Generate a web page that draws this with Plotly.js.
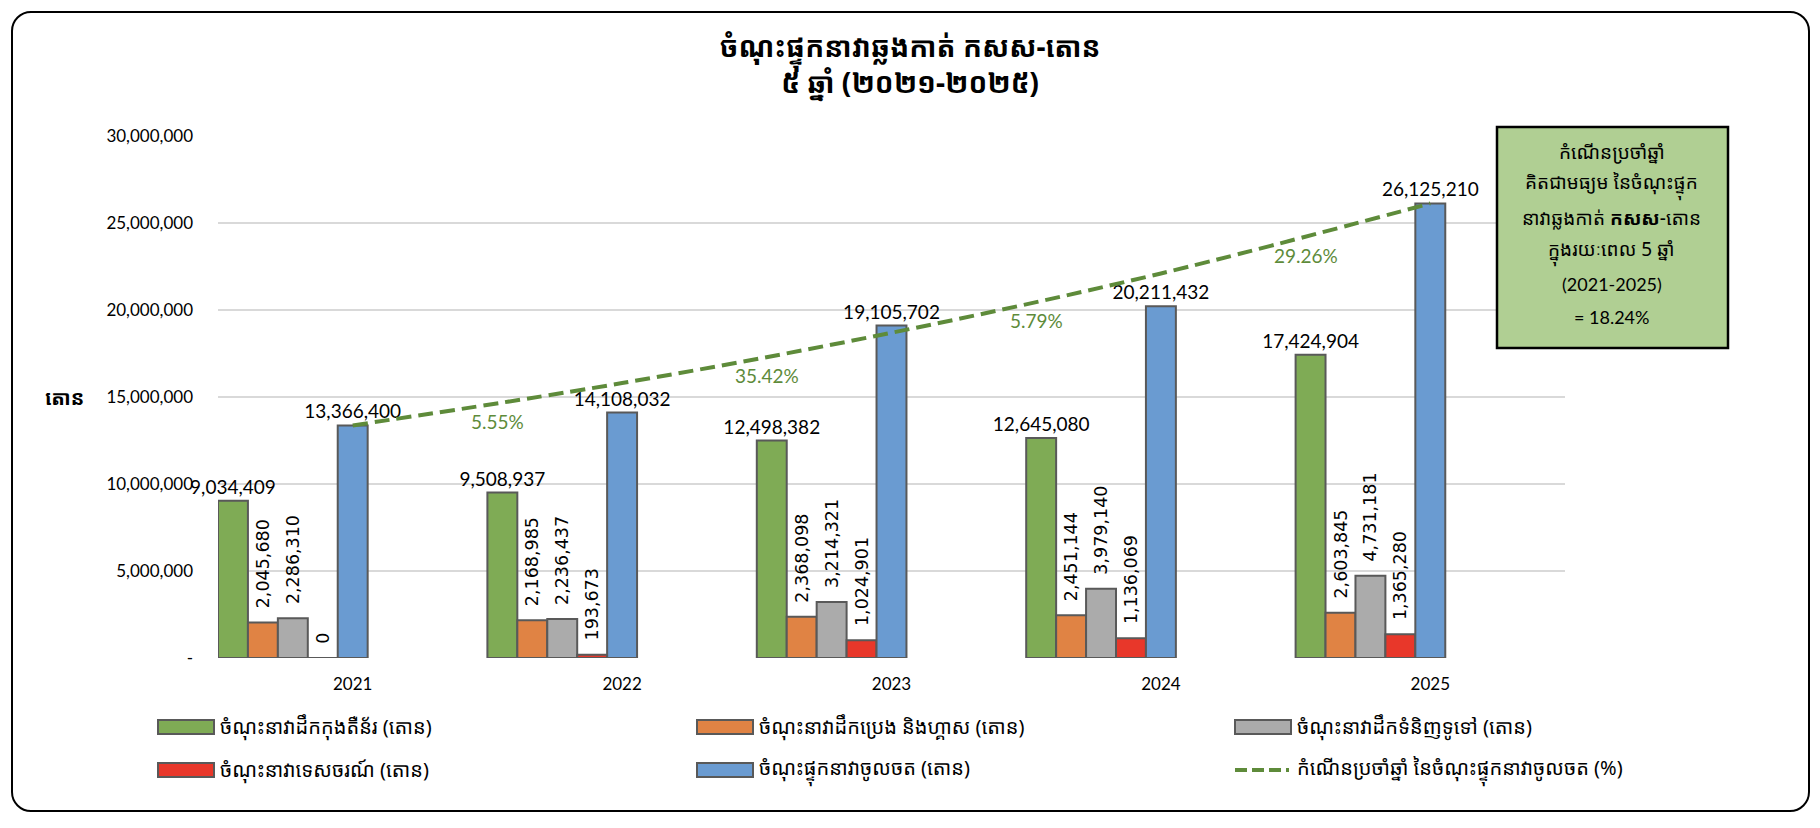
<!DOCTYPE html>
<html>
<head>
<meta charset="utf-8">
<script src="https://cdn.plot.ly/plotly-3.0.1.min.js"></script>
<style>
  body { margin: 0; background: #fff; }
  #chart { position: absolute; left: 0; top: 0; width: 1820px; height: 828px; }
  #frame { position: absolute; left: 11px; top: 11px; width: 1795px; height: 797px;
           border: 2px solid #000; border-radius: 20px; pointer-events: none; }
</style>
</head>
<body>
<div id="chart"></div>
<div id="frame"></div>
<script>
var khmer = "'Khmer OS Siemreap', 'Khmer OS', 'Noto Sans Khmer', 'Noto Serif Khmer', Hanuman, Battambang, sans-serif";
var latin = "Lato, 'Open Sans', sans-serif";

var years = ['2021', '2022', '2023', '2024', '2025'];
var container = [9034409, 9508937, 12498382, 12645080, 17424904];
var oilGas = [2045680, 2168985, 2368098, 2451144, 2603845];
var generalCargo = [2286310, 2236437, 3214321, 3979140, 4731181];
var cruise = [0, 193673, 1024901, 1136069, 1365280];
var totalCapacity = [13366400, 14108032, 19105702, 20211432, 26125210];
// dashed curve (average growth 18.24% per year)
var trendLine = [13366400, 15800000, 18690000, 22100000, 26125210];
var growthText = ['5.55%', '35.42%', '5.79%', '29.26%'];

var seriesNames = [
  'ចំណុះនាវាដឹកកុងតឺន័រ (តោន)',
  'ចំណុះនាវាដឹកប្រេង និងហ្គាស (តោន)',
  'ចំណុះនាវាដឹកទំនិញទូទៅ (តោន)',
  'ចំណុះនាវាទេសចរណ៍ (តោន)',
  'ចំណុះផ្ទុកនាវាចូលចត (តោន)',
  'កំណើនប្រចាំឆ្នាំ នៃចំណុះផ្ទុកនាវាចូលចត (%)'
];
var yTickVals = [0, 5000000, 10000000, 15000000, 20000000, 25000000, 30000000];
var yTickText = ['-', '5,000,000', '10,000,000', '15,000,000', '20,000,000', '25,000,000', '30,000,000'];
var boxLines = [
  'កំណើនប្រចាំឆ្នាំ',
  'គិតជាមធ្យម នៃចំណុះផ្ទុក',
  'នាវាឆ្លងកាត់ <b>កសស</b>-តោន',
  'ក្នុងរយៈពេល 5 ឆ្នាំ',
  '(2021-2025)',
  '= 18.24%'
];

var colors = ['#7FAB55', '#E08344', '#ABABAB', '#E8372A', '#6A9BD1'];
var lineColor = '#5E8B3A';

// plot area in pixels
var L = 218, R = 1565, T = 136, B = 658;
function px(x) { return (x - L) / (R - L); }
function py(y) { return (B - y) / (B - T); }

var slot = 1 / 9;
function fmt(v) { return v.toLocaleString('en-US'); }

function barTrace(vals, i, rotated) {
  return {
    type: 'bar',
    x: years,
    y: vals,
    name: seriesNames[i],
    offset: -0.5 + i * slot,
    width: slot,
    marker: { color: colors[i], line: { color: '#595959', width: 2 } },
    // rotated labels sit a little above their bars, as in the original
    text: vals.map(function (v) { return rotated ? '\u00A0\u00A0' + fmt(v) : fmt(v); }),
    textposition: 'outside',
    textangle: rotated ? -90 : 0,
    constraintext: 'none',
    cliponaxis: false,
    textfont: rotated ? { family: "'DejaVu Sans', sans-serif", size: 17.5, color: '#000' }
                      : { family: latin, size: 19, color: '#000' },
    showlegend: false,
    hoverinfo: 'y'
  };
}

var data = [
  barTrace(container, 0, false),
  barTrace(oilGas, 1, true),
  barTrace(generalCargo, 2, true),
  barTrace(cruise, 3, true),
  barTrace(totalCapacity, 4, false),
  {
    type: 'scatter',
    mode: 'lines',
    x: years,
    y: trendLine,
    name: seriesNames[5],
    line: { color: lineColor, width: 4, dash: '15px,7px', shape: 'spline' },
    showlegend: false,
    hoverinfo: 'y'
  }
];

var annotations = [];
var shapes = [];

// growth labels between years, under the dashed curve
growthText.forEach(function (t, i) {
  annotations.push({
    x: i + 0.5, y: (trendLine[i] + trendLine[i + 1]) / 2,
    xref: 'x', yref: 'y', xanchor: 'center', yanchor: 'top', xshift: 10, yshift: -4,
    text: t, showarrow: false,
    font: { family: latin, size: 19, color: lineColor }
  });
});

// y unit label
annotations.push({
  x: px(64), y: py(397), xref: 'paper', yref: 'paper',
  xanchor: 'center', yanchor: 'middle',
  text: '<b>តោន</b>', showarrow: false,
  font: { family: khmer, size: 20, color: '#000' }
});

// average growth box
shapes.push({
  type: 'rect', xref: 'paper', yref: 'paper',
  x0: px(1497), x1: px(1728), y0: py(348), y1: py(127),
  fillcolor: '#B0CF93', line: { color: '#000', width: 2.5 }, layer: 'above'
});
boxLines.forEach(function (t, i) {
  annotations.push({
    x: px(1612), y: py(152 + i * 33), xref: 'paper', yref: 'paper',
    xanchor: 'center', yanchor: 'middle',
    text: t, showarrow: false,
    font: { family: i >= 4 ? latin : khmer, size: i >= 4 ? 18 : 19, color: '#000' }
  });
});

// legend drawn below the plot
var legendCols = [158, 697, 1235];
var legendRows = [727, 770];
for (var i = 0; i < seriesNames.length; i++) {
  var cx = legendCols[i % 3], cy = legendRows[Math.floor(i / 3)];
  if (i < 5) {
    shapes.push({
      type: 'rect', xref: 'paper', yref: 'paper',
      x0: px(cx), x1: px(cx + 56), y0: py(cy + 7), y1: py(cy - 7),
      fillcolor: colors[i], line: { color: '#595959', width: 2 }
    });
  } else {
    shapes.push({
      type: 'line', xref: 'paper', yref: 'paper',
      x0: px(cx), x1: px(cx + 54), y0: py(cy), y1: py(cy),
      line: { color: lineColor, width: 4, dash: '12px,5px' }
    });
  }
  annotations.push({
    x: px(cx + 60), y: py(cy), xref: 'paper', yref: 'paper',
    xanchor: 'left', yanchor: 'middle', text: seriesNames[i], showarrow: false,
    font: { family: khmer, size: 20, color: '#000' }
  });
}

var layout = {
  width: 1820,
  height: 828,
  margin: { l: L, r: 1820 - R, t: T, b: 828 - B },
  paper_bgcolor: '#fff',
  plot_bgcolor: '#fff',
  barmode: 'overlay',
  showlegend: false,
  title: {
    text: '<b>ចំណុះផ្ទុកនាវាឆ្លងកាត់ កសស-តោន<br>៥ ឆ្នាំ (២០២១-២០២៥)</b>',
    x: 0.5, xref: 'container', xanchor: 'center',
    y: 1 - 57 / 828, yanchor: 'top',
    font: { family: khmer, size: 28, color: '#000' }
  },
  xaxis: {
    type: 'category',
    range: [-0.5, 4.5],
    showgrid: false,
    showline: false,
    ticks: '',
    ticklabelstandoff: 14,
    tickfont: { family: latin, size: 17, color: '#000' }
  },
  yaxis: {
    range: [0, 30000000],
    tickvals: yTickVals,
    ticktext: yTickText,
    showgrid: true,
    gridcolor: '#D9D9D9',
    gridwidth: 2,
    zeroline: false,
    showline: false,
    ticks: '',
    ticklabelstandoff: 24,
    tickfont: { family: latin, size: 17, color: '#000' }
  },
  shapes: shapes,
  annotations: annotations
};

Plotly.newPlot('chart', data, layout, { displayModeBar: false, staticPlot: true });
</script>
</body>
</html>
